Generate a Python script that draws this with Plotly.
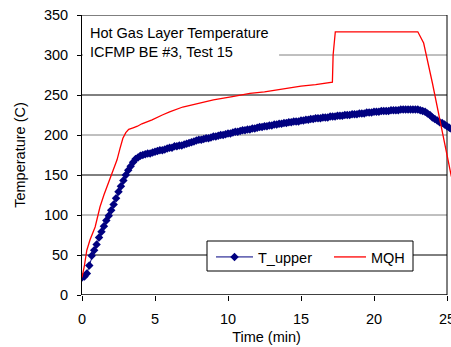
import plotly.graph_objects as go

# ---- data ----
t_upper_time_s = [
    0, 10, 20, 30, 40, 50, 60, 70, 80, 90, 100, 110, 120, 130, 140, 150, 160, 170, 180, 190,
    200, 210, 220, 230, 240, 250, 260, 270, 280, 290, 300, 310, 320, 330, 340, 350, 360, 370, 380, 390,
    400, 410, 420, 430, 440, 450, 460, 470, 480, 490, 500, 510, 520, 530, 540, 550, 560, 570, 580, 590,
    600, 610, 620, 630, 640, 650, 660, 670, 680, 690, 700, 710, 720, 730, 740, 750, 760, 770, 780, 790,
    800, 810, 820, 830, 840, 850, 860, 870, 880, 890, 900, 910, 920, 930, 940, 950, 960, 970, 980, 990,
    1000, 1010, 1020, 1030, 1040, 1050, 1060, 1070, 1080, 1090, 1100, 1110, 1120, 1130, 1140, 1150, 1160, 1170, 1180, 1190,
    1200, 1210, 1220, 1230, 1240, 1250, 1260, 1270, 1280, 1290, 1300, 1310, 1320, 1330, 1340, 1350, 1360, 1370, 1380, 1390,
    1400, 1410, 1420, 1430, 1440, 1450, 1460, 1470, 1480, 1490, 1500, 1510, 1520,
]
t_upper_temp = [
    22, 23, 27, 37, 49, 56, 63, 72, 79, 86, 93, 99, 106, 113, 121, 129, 136, 143, 150, 156,
    161, 166, 170, 172, 174, 175, 176, 177, 177, 178, 179, 180, 181, 181, 182, 183, 184, 184, 186, 186,
    187, 187, 188, 189, 190, 191, 192, 193, 194, 194, 195, 196, 196, 197, 198, 198, 199, 200, 200, 201,
    202, 202, 203, 204, 204, 205, 206, 206, 207, 207, 208, 208, 209, 210, 210, 211, 211, 212, 212, 213,
    213, 214, 214, 215, 215, 216, 216, 217, 217, 217, 218, 218, 219, 219, 220, 220, 221, 221, 221, 222,
    222, 222, 223, 223, 223, 224, 224, 224, 225, 225, 225, 226, 226, 226, 227, 227, 227, 228, 228, 228,
    229, 229, 229, 230, 230, 230, 230, 231, 231, 231, 231, 232, 232, 232, 232, 232, 232, 232, 232, 231,
    230, 229, 227, 225, 222, 220, 218, 216, 215, 213, 211, 209, 207,
]
t_upper_time = [s / 60 for s in t_upper_time_s]

mqh_time = [0, 0.15, 0.33, 0.55, 0.9, 1.23, 1.5, 1.9, 2.2, 2.4, 2.6, 2.8, 3.0, 3.2, 3.5, 3.8,
            4.1, 4.4, 4.8, 5.5, 6.0, 6.9, 8.0, 9.0, 10.3, 11.5, 12.5, 13.8, 15.0, 16.0, 17.15,
            17.2, 17.35, 23.0, 23.2, 23.4, 24.0, 24.4, 24.7, 25.07, 25.3]
mqh_temp = [22, 35, 56, 69, 85, 110, 125, 144, 158, 169, 183, 196, 203, 207, 209, 211,
            214, 216, 219, 225, 229, 235, 240, 244, 248, 252, 254, 258, 261, 263, 266,
            300, 329, 329, 322, 315, 265, 227, 202, 169, 148]

y_ticks = [0, 50, 100, 150, 200, 250, 300, 350]
x_ticks = [0, 5, 10, 15, 20, 25]
grid_dark = [50, 150, 250]
grid_light = [100, 200, 300]

FONT = "Liberation Sans, Arial, sans-serif"
FS = 14.5
PW, PH, L, B = 369, 280, 82, 52   # plot area size and margins (px)


def px_x(p):
    return (p - L) / PW


def px_y(p):
    return (347 - B - p) / PH


fig = go.Figure()
fig.add_trace(go.Scatter(
    x=t_upper_time, y=t_upper_temp, name="T_upper", mode="lines+markers",
    line=dict(color="#000080", width=1),
    marker=dict(symbol="diamond", size=6.5, color="#000080"),
    legend="legend",
))
fig.add_trace(go.Scatter(
    x=mqh_time, y=mqh_temp, name="MQH", mode="lines",
    line=dict(color="#FF0000", width=1.3),
    legend="legend2",
))

shapes = []
for g in grid_dark:
    shapes.append(dict(type="line", xref="x", yref="y", x0=0, x1=25, y0=g, y1=g,
                       line=dict(color="#000000", width=1), layer="below"))
for g in grid_light:
    shapes.append(dict(type="line", xref="x", yref="y", x0=0, x1=25, y0=g, y1=g,
                       line=dict(color="#808080", width=1), layer="below"))
# white box behind the chart note
shapes.append(dict(type="rect", xref="x", yref="y", x0=0.07, x1=13.5, y0=291, y1=344,
                   fillcolor="white", line=dict(width=0), layer="below"))
# plot area frame (top, right, bottom)
shapes.append(dict(type="line", xref="x", yref="y", x0=0, x1=25, y0=350, y1=350,
                   line=dict(color="#000000", width=1), layer="above"))
shapes.append(dict(type="line", xref="x", yref="y", x0=25, x1=25, y0=0, y1=350,
                   line=dict(color="#000000", width=1), layer="below"))
shapes.append(dict(type="line", xref="x", yref="y", x0=0, x1=25, y0=0, y1=0,
                   line=dict(color="#000000", width=1.3), layer="above"))
# legend frame
shapes.append(dict(type="rect", xref="paper", yref="paper",
                   x0=px_x(207), x1=px_x(413), y0=px_y(271), y1=px_y(241),
                   fillcolor="white", line=dict(color="#000000", width=1), layer="above"))

legend_common = dict(
    orientation="h", xanchor="left", yanchor="top", y=px_y(241),
    bgcolor="rgba(0,0,0,0)", borderwidth=0,
    font=dict(family=FONT, size=FS),
)

fig.update_layout(
    width=451, height=347,
    margin=dict(l=L, r=0, t=15, b=B, autoexpand=False),
    paper_bgcolor="white", plot_bgcolor="white",
    font=dict(family=FONT, size=FS, color="#000000"),
    shapes=shapes,
    showlegend=True,
    legend=dict(x=px_x(211), itemwidth=37, **legend_common),
    legend2=dict(x=px_x(329), itemwidth=32, **legend_common),
    annotations=[dict(
        text="Hot Gas Layer Temperature<br>ICFMP BE #3, Test 15",
        xref="paper", yref="paper", x=px_x(88), y=px_y(23),
        xanchor="left", yanchor="top", align="left", showarrow=False,
        font=dict(family=FONT, size=FS),
    )],
    xaxis=dict(
        range=[0, 25 * 369 / 365], tickvals=x_ticks, ticktext=[str(v) for v in x_ticks],
        showgrid=False, zeroline=False, showline=False, automargin=False,
        ticklabeloverflow="allow",
        ticks="outside", ticklen=5, tickcolor="#000000", ticklabelstandoff=6,
        title=dict(text="Time (min)", font=dict(family=FONT, size=FS), standoff=5),
    ),
    yaxis=dict(
        range=[0, 350], tickvals=y_ticks, ticktext=[str(v) for v in y_ticks],
        showgrid=False, zeroline=False, showline=True, linecolor="#000000", linewidth=1,
        automargin=False, ticklabeloverflow="allow",
        ticks="outside", ticklen=4, tickcolor="#000000", ticklabelstandoff=6,
        title=dict(text="Temperature (C)", font=dict(family=FONT, size=FS), standoff=14),
    ),
)

fig.write_html("out.html")
